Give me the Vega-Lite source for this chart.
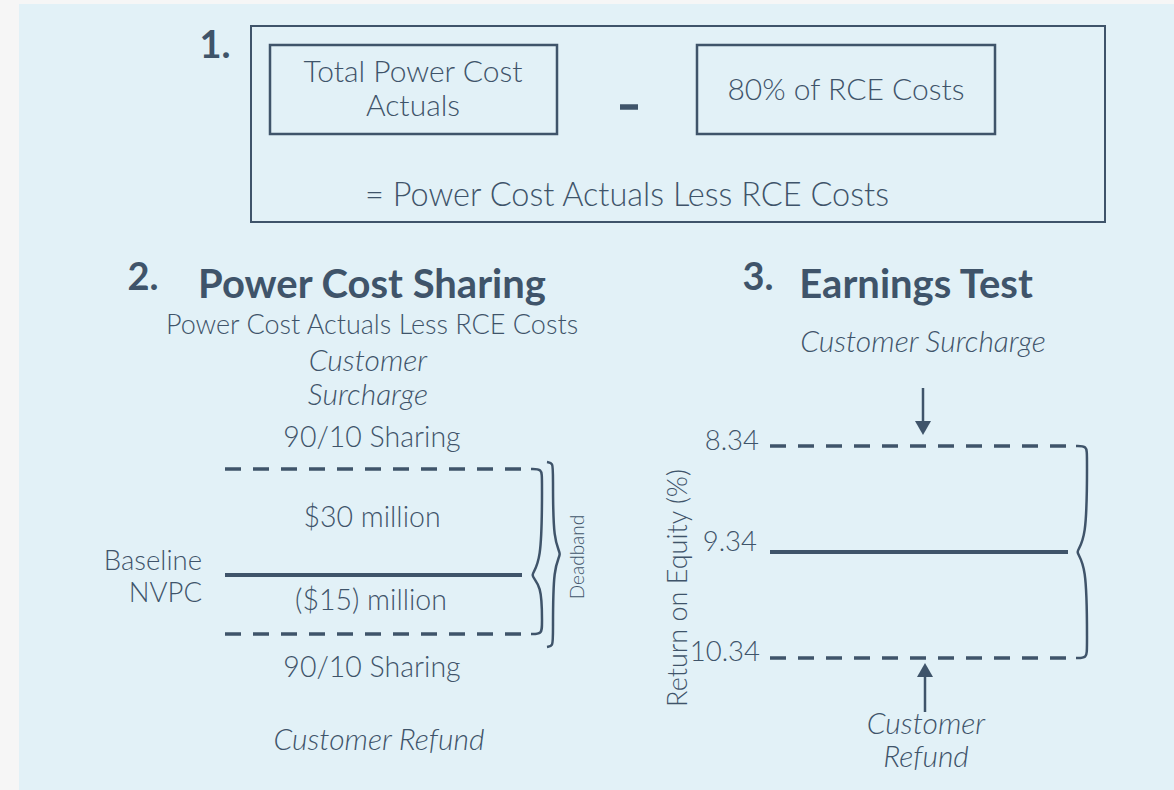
{
  "$schema": "https://vega.github.io/schema/vega-lite/v6.json",
  "width": 1174,
  "height": 790,
  "autosize": {"type": "fit", "contains": "padding"},
  "padding": 0,
  "background": "#f6f6f6",
  "config": {"view": {"stroke": null}, "text": {"font": "Lato", "color": "#3f546a"}},
  "datasets": {
    "panel": [{"x": 19, "x2": 1174, "y": 4, "y2": 790}],
    "outerbox": [{"x": 251, "x2": 1105, "y": 26, "y2": 222}],
    "innerboxes": [{"x": 270, "x2": 557, "y": 45, "y2": 134}, {"x": 697, "x2": 995, "y": 45, "y2": 134}],
    "dashed": [
      {"x": 225, "x2": 522, "y": 469},
      {"x": 225, "x2": 522, "y": 634},
      {"x": 770, "x2": 1067, "y": 446},
      {"x": 770, "x2": 1067, "y": 658}
    ],
    "solid": [{"x": 225, "x2": 522, "y": 575}, {"x": 770, "x2": 1068, "y": 552}],
    "minus": [{"x": 620, "x2": 638, "y": 107}],
    "shafts": [{"x": 923, "y": 388, "y2": 424}, {"x": 925, "y": 676, "y2": 712}],
    "heads": [{"x": 923, "y": 428, "dir": "down"}, {"x": 925, "y": 670, "dir": "up"}],
    "braces": [
      {"brace": "a", "i": 0, "x": 531, "y": 469},
      {"brace": "a", "i": 1, "x": 542, "y": 469},
      {"brace": "a", "i": 2, "x": 542, "y": 478},
      {"brace": "a", "i": 3, "x": 542, "y": 566},
      {"brace": "a", "i": 4, "x": 528, "y": 575},
      {"brace": "a", "i": 5, "x": 542, "y": 584},
      {"brace": "a", "i": 6, "x": 542, "y": 625},
      {"brace": "a", "i": 7, "x": 542, "y": 634},
      {"brace": "a", "i": 8, "x": 531, "y": 634},
      {"brace": "b", "i": 0, "x": 547, "y": 462},
      {"brace": "b", "i": 1, "x": 553, "y": 463},
      {"brace": "b", "i": 2, "x": 553, "y": 472},
      {"brace": "b", "i": 3, "x": 553, "y": 544},
      {"brace": "b", "i": 4, "x": 563, "y": 554},
      {"brace": "b", "i": 5, "x": 553, "y": 564},
      {"brace": "b", "i": 6, "x": 553, "y": 637},
      {"brace": "b", "i": 7, "x": 553, "y": 646},
      {"brace": "b", "i": 8, "x": 547, "y": 647},
      {"brace": "c", "i": 0, "x": 1076, "y": 446},
      {"brace": "c", "i": 1, "x": 1087, "y": 446},
      {"brace": "c", "i": 2, "x": 1087, "y": 455},
      {"brace": "c", "i": 3, "x": 1087, "y": 543},
      {"brace": "c", "i": 4, "x": 1073, "y": 552},
      {"brace": "c", "i": 5, "x": 1087, "y": 561},
      {"brace": "c", "i": 6, "x": 1087, "y": 649},
      {"brace": "c", "i": 7, "x": 1087, "y": 658},
      {"brace": "c", "i": 8, "x": 1076, "y": 658}
    ],
    "numbers": [
      {"x": 215, "y": 47, "label": "1."},
      {"x": 143, "y": 279, "label": "2."},
      {"x": 758, "y": 279, "label": "3."}
    ],
    "titles": [
      {"x": 372, "y": 286, "label": "Power Cost Sharing"},
      {"x": 916, "y": 286, "label": "Earnings Test"}
    ],
    "boxtext": [
      {"x": 413, "y": 73, "label": "Total Power Cost"},
      {"x": 413, "y": 107, "label": "Actuals"},
      {"x": 846, "y": 91, "label": "80% of RCE Costs"}
    ],
    "equation": [{"x": 627, "y": 196, "label": "= Power Cost Actuals Less RCE Costs"}],
    "subtitle": [{"x": 372, "y": 326, "label": "Power Cost Actuals Less RCE Costs"}],
    "centertext": [
      {"x": 372, "y": 438, "label": "90/10 Sharing"},
      {"x": 372, "y": 668, "label": "90/10 Sharing"},
      {"x": 372, "y": 518, "label": "$30 million"},
      {"x": 371, "y": 601, "label": "($15) million"}
    ],
    "righttext": [
      {"x": 202, "y": 562, "label": "Baseline"},
      {"x": 202, "y": 594, "label": "NVPC"},
      {"x": 759, "y": 442, "label": "8.34"},
      {"x": 757, "y": 543, "label": "9.34"},
      {"x": 760, "y": 653, "label": "10.34"}
    ],
    "italics": [
      {"x": 368, "y": 362, "label": "Customer"},
      {"x": 368, "y": 396, "label": "Surcharge"},
      {"x": 379, "y": 741, "label": "Customer Refund"},
      {"x": 923, "y": 343, "label": "Customer Surcharge"},
      {"x": 926, "y": 725, "label": "Customer"},
      {"x": 926, "y": 758, "label": "Refund"}
    ],
    "roe": [{"x": 679, "y": 588, "label": "Return on Equity (%)"}],
    "deadband": [{"x": 578, "y": 557, "label": "Deadband"}]
  },
  "encoding": {
    "x": {"field": "x", "type": "quantitative", "scale": {"domain": [0, 1174], "nice": false, "zero": false}, "axis": null},
    "y": {"field": "y", "type": "quantitative", "scale": {"domain": [0, 790], "nice": false, "zero": false, "reverse": true}, "axis": null}
  },
  "layer": [
    {"data": {"name": "panel"}, "mark": {"type": "rect", "fill": "#e2f1f7"},
     "encoding": {"x2": {"field": "x2"}, "y2": {"field": "y2"}}},
    {"data": {"name": "outerbox"}, "mark": {"type": "rect", "fillOpacity": 0, "stroke": "#3f546a", "strokeWidth": 2},
     "encoding": {"x2": {"field": "x2"}, "y2": {"field": "y2"}}},
    {"data": {"name": "innerboxes"}, "mark": {"type": "rect", "fillOpacity": 0, "stroke": "#3f546a", "strokeWidth": 2.5},
     "encoding": {"x2": {"field": "x2"}, "y2": {"field": "y2"}}},
    {"data": {"name": "dashed"}, "mark": {"type": "rule", "color": "#3f546a", "strokeWidth": 3.5, "strokeDash": [16, 12]},
     "encoding": {"x2": {"field": "x2"}}},
    {"data": {"name": "solid"}, "mark": {"type": "rule", "color": "#3f546a", "strokeWidth": 4},
     "encoding": {"x2": {"field": "x2"}}},
    {"data": {"name": "minus"}, "mark": {"type": "rule", "color": "#3f546a", "strokeWidth": 5.5},
     "encoding": {"x2": {"field": "x2"}}},
    {"data": {"name": "shafts"}, "mark": {"type": "rule", "color": "#3f546a", "strokeWidth": 2.5},
     "encoding": {"y2": {"field": "y2"}}},
    {"data": {"name": "heads"}, "mark": {"type": "point", "filled": true, "opacity": 1, "color": "#3f546a", "size": 256},
     "encoding": {"shape": {"field": "dir", "type": "nominal", "scale": {"domain": ["down", "up"], "range": ["triangle-down", "triangle-up"]}, "legend": null}}},
    {"data": {"name": "braces"}, "mark": {"type": "line", "interpolate": "basis", "color": "#3f546a", "strokeWidth": 2.5},
     "encoding": {"detail": {"field": "brace", "type": "nominal"}, "order": {"field": "i", "type": "quantitative"}}},
    {"data": {"name": "numbers"}, "mark": {"type": "text", "fontSize": 38, "fontWeight": "bold", "align": "center", "baseline": "middle"},
     "encoding": {"text": {"field": "label"}}},
    {"data": {"name": "titles"}, "mark": {"type": "text", "fontSize": 40, "fontWeight": "bold", "align": "center", "baseline": "middle"},
     "encoding": {"text": {"field": "label"}}},
    {"data": {"name": "boxtext"}, "mark": {"type": "text", "fontSize": 30, "fontWeight": 300, "align": "center", "baseline": "middle"},
     "encoding": {"text": {"field": "label"}}},
    {"data": {"name": "equation"}, "mark": {"type": "text", "fontSize": 32.5, "fontWeight": 300, "align": "center", "baseline": "middle"},
     "encoding": {"text": {"field": "label"}}},
    {"data": {"name": "subtitle"}, "mark": {"type": "text", "fontSize": 27, "fontWeight": 300, "align": "center", "baseline": "middle"},
     "encoding": {"text": {"field": "label"}}},
    {"data": {"name": "centertext"}, "mark": {"type": "text", "fontSize": 28.5, "fontWeight": 300, "align": "center", "baseline": "middle"},
     "encoding": {"text": {"field": "label"}}},
    {"data": {"name": "righttext"}, "mark": {"type": "text", "fontSize": 27.5, "fontWeight": 300, "align": "right", "baseline": "middle"},
     "encoding": {"text": {"field": "label"}}},
    {"data": {"name": "italics"}, "mark": {"type": "text", "fontSize": 30, "fontWeight": 300, "fontStyle": "italic", "align": "center", "baseline": "middle"},
     "encoding": {"text": {"field": "label"}}},
    {"data": {"name": "roe"}, "mark": {"type": "text", "fontSize": 27, "fontWeight": 300, "angle": 270, "align": "center", "baseline": "middle"},
     "encoding": {"text": {"field": "label"}}},
    {"data": {"name": "deadband"}, "mark": {"type": "text", "fontSize": 19, "fontWeight": 300, "angle": 270, "align": "center", "baseline": "middle"},
     "encoding": {"text": {"field": "label"}}}
  ]
}
